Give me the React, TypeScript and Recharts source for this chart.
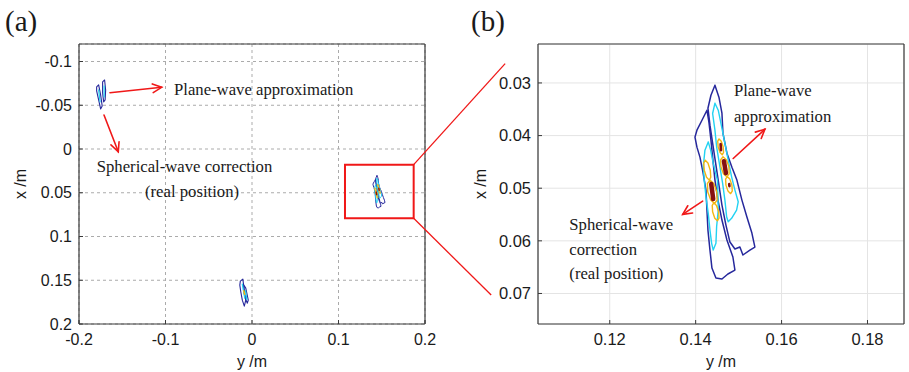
import React from 'react'
import {
  ScatterChart,
  Scatter,
  XAxis,
  YAxis,
  CartesianGrid,
  ReferenceArea,
  ReferenceLine,
  ReferenceDot,
} from 'recharts'

// Every row is [y (m), x (m)]: y runs along the horizontal axis, x down the vertical one.

// Target near y = 0.145 m, plane-wave image (upper, right) and spherical-wave image (lower, left)
const PLANE_OUTER = [
  [0.14449, 0.03044], [0.14542, 0.03271], [0.14612, 0.03575], [0.14635, 0.03954],
  [0.14728, 0.04334], [0.14844, 0.046], [0.1496, 0.04846], [0.15077, 0.05226],
  [0.15193, 0.05548], [0.15309, 0.05852], [0.15379, 0.06118], [0.15263, 0.06175],
  [0.151, 0.06269], [0.1503, 0.06118], [0.14914, 0.06156], [0.14798, 0.06023],
  [0.14705, 0.057], [0.14612, 0.05321], [0.14542, 0.04941], [0.14472, 0.04562],
  [0.14402, 0.04182], [0.14333, 0.03803], [0.14286, 0.0348], [0.14356, 0.03233],
]
const SPHERICAL_OUTER = [
  [0.14263, 0.03518], [0.14147, 0.03708], [0.1403, 0.03898], [0.13984, 0.0403],
  [0.1403, 0.0422], [0.141, 0.0441], [0.1417, 0.04694], [0.1424, 0.05036],
  [0.14263, 0.05416], [0.14286, 0.05795], [0.14333, 0.06175], [0.14379, 0.06517],
  [0.14472, 0.06706], [0.14612, 0.06725], [0.14751, 0.0663], [0.14914, 0.06555],
  [0.14867, 0.06307], [0.14728, 0.05985], [0.14612, 0.05605], [0.14519, 0.05226],
  [0.14449, 0.04846], [0.14402, 0.04467], [0.14356, 0.04087], [0.14309, 0.03746],
]
const PLANE_MID = [
  [0.14449, 0.03385], [0.14526, 0.03518], [0.14605, 0.03835], [0.14681, 0.0415],
  [0.14758, 0.04467], [0.14837, 0.04784], [0.14914, 0.05036], [0.14991, 0.05258],
  [0.14953, 0.05416], [0.14837, 0.05573], [0.14758, 0.05638], [0.14721, 0.05543],
  [0.14681, 0.05226], [0.14628, 0.04909], [0.14565, 0.04594], [0.14488, 0.04214],
  [0.14449, 0.03898], [0.14395, 0.03581],
]
const SPHERICAL_MID = [
  [0.14293, 0.0412], [0.14216, 0.04277], [0.14177, 0.04594], [0.142, 0.04846],
  [0.1424, 0.05163], [0.14293, 0.05478], [0.14333, 0.05795], [0.14372, 0.06047],
  [0.14409, 0.06175], [0.14472, 0.06047], [0.14488, 0.05733], [0.14526, 0.05416],
  [0.14519, 0.05163], [0.14507, 0.04846], [0.14409, 0.04529], [0.14349, 0.04277],
]
const PLANE_INNER = [
  [[0.14544, 0.04063], [0.14596, 0.04107], [0.1464, 0.04214], [0.14649, 0.04322],
   [0.14619, 0.04366], [0.14567, 0.04322], [0.14523, 0.04214], [0.14514, 0.04107]],
  [[0.14635, 0.04404], [0.14714, 0.0446], [0.14774, 0.04594], [0.1478, 0.04728],
   [0.14728, 0.04784], [0.14649, 0.04728], [0.14588, 0.04594], [0.14583, 0.0446]],
  [[0.14735, 0.0478], [0.14796, 0.04827], [0.14844, 0.04941], [0.14852, 0.05055],
   [0.14814, 0.05103], [0.14753, 0.05055], [0.14705, 0.04941], [0.14697, 0.04827]],
]
const SPHERICAL_INNER = [
  [[0.14223, 0.04467], [0.14286, 0.04522], [0.1434, 0.04657], [0.14352, 0.04791],
   [0.14316, 0.04846], [0.14253, 0.04791], [0.142, 0.04657], [0.14188, 0.04522]],
  [[0.14332, 0.04846], [0.14422, 0.04911], [0.14491, 0.05068], [0.14499, 0.05225],
   [0.1444, 0.0529], [0.14351, 0.05225], [0.14281, 0.05068], [0.14274, 0.04911]],
  [[0.14423, 0.05277], [0.14485, 0.05327], [0.14535, 0.05448], [0.14544, 0.05569],
   [0.14507, 0.05619], [0.14445, 0.05569], [0.14395, 0.05448], [0.14386, 0.05327]],
]
// peak cores: strong ones and faint ones
const MAIN_PEAKS = [
  [[0.14658, 0.04486], [0.14705, 0.04713]],
  [[0.14363, 0.04922], [0.14409, 0.05207]],
]
const SIDE_PEAKS = [
  [[0.14581, 0.04163], [0.1459, 0.04277]],
  [[0.14781, 0.04923], [0.14786, 0.04961]],
]

// The other two targets, only in the wide view
const TOP_LEFT_OUTER = [
  [[-0.1796, -0.0709], [-0.1773, -0.0732], [-0.175, -0.0618], [-0.1732, -0.0492],
   [-0.175, -0.0458], [-0.1773, -0.0561], [-0.1796, -0.0664]],
  [[-0.1727, -0.0767], [-0.1704, -0.0789], [-0.1692, -0.0675], [-0.1698, -0.0561],
   [-0.1715, -0.0538], [-0.1727, -0.0641]],
]
const TOP_LEFT_MID = [
  [[-0.1773, -0.0675], [-0.1756, -0.0538]],
  [[-0.1709, -0.0721], [-0.1709, -0.0595]],
]
const BOTTOM_OUTER = [
  [[-0.0135, 0.151], [-0.0106, 0.1487], [-0.0089, 0.1613], [-0.0072, 0.1728],
   [-0.0089, 0.1796], [-0.0112, 0.1728], [-0.0129, 0.1636], [-0.0141, 0.1556]],
  [[-0.0095, 0.1556], [-0.0072, 0.159], [-0.0043, 0.1728], [-0.0054, 0.1762],
   [-0.0077, 0.1705], [-0.0095, 0.1636]],
]
const BOTTOM_MID = [
  [[-0.0112, 0.1545], [-0.0083, 0.1705]],
  [[-0.0075, 0.162], [-0.006, 0.172]],
]
const BOTTOM_INNER = [[-0.0095, 0.162], [-0.0085, 0.166]]

// axes
const WIDE_H_DOMAIN = [-0.2, 0.2]
const WIDE_V_DOMAIN = [-0.12, 0.2]
const WIDE_H_TICKS = [-0.2, -0.1, 0, 0.1, 0.2]
const WIDE_V_TICKS = [-0.1, -0.05, 0, 0.05, 0.1, 0.15, 0.2]
const ZOOM_H_DOMAIN = [0.1033, 0.1885]
const ZOOM_V_DOMAIN = [0.0226, 0.0758]
const ZOOM_H_TICKS = [0.12, 0.14, 0.16, 0.18]
const ZOOM_V_TICKS = [0.03, 0.04, 0.05, 0.06, 0.07]

// zoom window in the wide view and where its leader lines land (zoom-view coordinates)
const ZOOM_BOX_H = [0.1075, 0.1869]
const ZOOM_BOX_V = [0.0179, 0.0792]
const LEADER_ENDS = [[0.09565, 0.02632], [0.0924, 0.0703]]

// annotations
const PLANE_LABEL = 'Plane-wave approximation'
const SPHERICAL_LABEL = ['Spherical-wave correction', '(real position)']
const WIDE_ARROWS = [
  [[-0.1642, -0.0643], [-0.1044, -0.0705]],
  [[-0.1711, -0.0389], [-0.1546, 0.0031]],
]
const WIDE_NOTE_AT = [[-0.0902, -0.0617], [-0.1795, 0.0266], [-0.1237, 0.0552]]
const ZOOM_ARROWS = [
  [[0.14874, 0.04435], [0.15612, 0.03879]],
  [[0.14163, 0.05245], [0.13698, 0.05497]],
]
const ZOOM_PLANE_LINES = ['Plane-wave', 'approximation']
const ZOOM_SPHERICAL_LINES = ['Spherical-wave', 'correction', '(real position)']
const ZOOM_NOTE_AT = [[0.14891, 0.03252], [0.1106, 0.05795]]

const SANS = '"Liberation Sans", Arial, Helvetica, sans-serif'
const SERIF = '"Liberation Serif", "Times New Roman", Times, serif'
const INK = '#1a1a1a'
const FRAME = '#3a3a3a'
const RED = '#f01818'
const BLUE = '#26289c'
const CYAN = '#22d2f2'
const GOLD = '#f2b612'
const CORE = '#861010'

const CHART_H = 372
const X_AXIS_H = 48
const TITLE_BASELINE = 367

const WIDE = { left: 0, width: 460, yAxisW: 79, marginRight: 34, tickFont: 16 }
const ZOOM = { left: 460, width: 449, yAxisW: 78, marginRight: 4, tickFont: 16.5 }
const MARGIN_TOP = 43

const noMarker = () => <g />

const toPoints = (rows: number[][], close: boolean) => {
  const pts = rows.map(([h, v]) => ({ h, v }))
  return close ? [...pts, pts[0]] : pts
}

const trace = (key: string, rows: number[][], stroke: string, width: number, close: boolean) => (
  <Scatter
    key={key}
    data={toPoints(rows, close)}
    shape={noMarker}
    line={{ stroke, strokeWidth: width, strokeLinejoin: 'round', strokeLinecap: 'round' }}
    isAnimationActive={false}
  />
)

type Widths = { outer: number; mid: number; inner: number; main: number; side: number }

function targetContours(tag: string, w: Widths) {
  const out: React.ReactElement[] = [
    trace(tag + 'po', PLANE_OUTER, BLUE, w.outer, true),
    trace(tag + 'so', SPHERICAL_OUTER, BLUE, w.outer, true),
    trace(tag + 'pm', PLANE_MID, CYAN, w.mid, true),
    trace(tag + 'sm', SPHERICAL_MID, CYAN, w.mid, true),
  ]
  PLANE_INNER.forEach((r, i) => out.push(trace(tag + 'pi' + i, r, GOLD, w.inner, true)))
  SPHERICAL_INNER.forEach((r, i) => out.push(trace(tag + 'si' + i, r, GOLD, w.inner, true)))
  MAIN_PEAKS.forEach((r, i) => out.push(trace(tag + 'mp' + i, r, CORE, w.main, false)))
  if (w.side > 0) SIDE_PEAKS.forEach((r, i) => out.push(trace(tag + 'sp' + i, r, CORE, w.side, false)))
  return out
}

const textBlock = (lines: string[], gap: number) => (p: any) => (
  <text x={p.cx} y={p.cy} fontFamily={SERIF} fontSize={16.7} fill={INK}>
    {lines.map((s, i) => (
      <tspan key={i} x={p.cx} dy={i === 0 ? 0 : gap}>
        {s}
      </tspan>
    ))}
  </text>
)

const arrowShape = (p: any) => {
  const { x1, y1, x2, y2 } = p
  const a = Math.atan2(y2 - y1, x2 - x1)
  const len = 10
  const spread = 0.45
  const w1 = [x2 - len * Math.cos(a - spread), y2 - len * Math.sin(a - spread)]
  const w2 = [x2 - len * Math.cos(a + spread), y2 - len * Math.sin(a + spread)]
  return (
    <g stroke={RED} strokeWidth={1.6} fill="none" strokeLinecap="round">
      <line x1={x1} y1={y1} x2={x2} y2={y2} />
      <polyline points={`${w1} ${x2},${y2} ${w2}`} />
    </g>
  )
}

const vTitle = (props: any) => {
  const vb = props.viewBox || {}
  const cx = (vb.x ?? 0) + 20.5
  const cy = (vb.y ?? MARGIN_TOP) + (vb.height ?? 280) / 2
  return (
    <text x={cx} y={cy} transform={`rotate(-90 ${cx} ${cy})`} textAnchor="middle" dy="0.35em" fontFamily={SANS} fontSize={16} fill={INK}>
      x /m
    </text>
  )
}

const hTitle = (props: any) => {
  const vb = props.viewBox || {}
  return (
    <text x={(vb.x ?? 0) + (vb.width ?? 0) / 2} y={TITLE_BASELINE} textAnchor="middle" fontFamily={SANS} fontSize={16} fill={INK}>
      y /m
    </text>
  )
}

type PanelProps = {
  layout: typeof WIDE
  hDomain: number[]
  vDomain: number[]
  hTicks: number[]
  vTicks: number[]
  grid: React.ReactElement
  children: React.ReactNode
}

function Panel({ layout, hDomain, vDomain, hTicks, vTicks, grid, children }: PanelProps) {
  const tick = { fontSize: layout.tickFont, fill: INK, fontFamily: SANS }
  const frame = { stroke: FRAME, strokeWidth: 1.2 }
  return (
    <div style={{ position: 'absolute', left: layout.left, top: 0 }}>
      <ScatterChart
        width={layout.width}
        height={CHART_H}
        margin={{ top: MARGIN_TOP, right: layout.marginRight, bottom: 0, left: 0 }}
        style={{ fontFamily: SANS }}
      >
        {grid}
        <XAxis
          dataKey="h"
          type="number"
          domain={hDomain}
          ticks={hTicks}
          interval={0}
          allowDataOverflow
          height={X_AXIS_H}
          tickSize={-4}
          tickMargin={13.5}
          tick={tick}
          axisLine={frame}
          tickLine={{ stroke: FRAME }}
          label={hTitle}
        />
        <XAxis
          xAxisId="top"
          orientation="top"
          type="number"
          domain={hDomain}
          ticks={hTicks}
          interval={0}
          allowDataOverflow
          height={1}
          tickSize={-4}
          tick={false}
          axisLine={frame}
          tickLine={{ stroke: FRAME }}
        />
        <YAxis
          dataKey="v"
          type="number"
          domain={vDomain}
          ticks={vTicks}
          interval={0}
          reversed
          allowDataOverflow
          width={layout.yAxisW}
          tickSize={-4}
          tickMargin={11}
          tick={tick}
          axisLine={frame}
          tickLine={{ stroke: FRAME }}
          label={vTitle}
        />
        <YAxis
          yAxisId="right"
          orientation="right"
          type="number"
          domain={vDomain}
          ticks={vTicks}
          interval={0}
          reversed
          allowDataOverflow
          width={1}
          tickSize={-4}
          tick={false}
          axisLine={frame}
          tickLine={{ stroke: FRAME }}
        />
        {children}
      </ScatterChart>
    </div>
  )
}

// pixel mapping of both plot areas, used for the leader lines that cross between panels
const wideH = (v: number) => WIDE.left + WIDE.yAxisW + ((v - WIDE_H_DOMAIN[0]) / (WIDE_H_DOMAIN[1] - WIDE_H_DOMAIN[0])) * (WIDE.width - WIDE.yAxisW - WIDE.marginRight - 1)
const zoomH = (v: number) => ZOOM.left + ZOOM.yAxisW + ((v - ZOOM_H_DOMAIN[0]) / (ZOOM_H_DOMAIN[1] - ZOOM_H_DOMAIN[0])) * (ZOOM.width - ZOOM.yAxisW - ZOOM.marginRight - 1)
const plotTop = MARGIN_TOP + 1
const plotH = CHART_H - X_AXIS_H - plotTop
const wideV = (v: number) => plotTop + ((v - WIDE_V_DOMAIN[0]) / (WIDE_V_DOMAIN[1] - WIDE_V_DOMAIN[0])) * plotH
const zoomV = (v: number) => plotTop + ((v - ZOOM_V_DOMAIN[0]) / (ZOOM_V_DOMAIN[1] - ZOOM_V_DOMAIN[0])) * plotH

export default function App() {
  const wideThin: Widths = { outer: 1, mid: 1, inner: 1, main: 1.4, side: 0 }
  const zoomFull: Widths = { outer: 1.5, mid: 1.4, inner: 1.4, main: 4.5, side: 2.6 }

  return (
    <div style={{ position: 'absolute', left: 0, top: 0, width: 909, height: CHART_H, background: '#fff', overflow: 'hidden' }}>
      <Panel
        layout={WIDE}
        hDomain={WIDE_H_DOMAIN}
        vDomain={WIDE_V_DOMAIN}
        hTicks={WIDE_H_TICKS}
        vTicks={WIDE_V_TICKS}
        grid={<CartesianGrid stroke="#ababab" strokeDasharray="3 3" />}
      >
        {TOP_LEFT_OUTER.map((r, i) => trace('tlo' + i, r, BLUE, 1.1, true))}
        {TOP_LEFT_MID.map((r, i) => trace('tlm' + i, r, CYAN, 1.2, false))}
        {BOTTOM_OUTER.map((r, i) => trace('bo' + i, r, BLUE, 1.1, true))}
        {BOTTOM_MID.map((r, i) => trace('bm' + i, r, CYAN, 1.3, false))}
        {trace('bi', BOTTOM_INNER, GOLD, 1.5, false)}
        {targetContours('w', wideThin)}
        <ReferenceArea
          x1={ZOOM_BOX_H[0]}
          x2={ZOOM_BOX_H[1]}
          y1={ZOOM_BOX_V[0]}
          y2={ZOOM_BOX_V[1]}
          fill="none"
          stroke={RED}
          strokeWidth={2}
          ifOverflow="visible"
        />
        {WIDE_ARROWS.map(([s, e], i) => (
          <ReferenceLine key={'wa' + i} segment={[{ x: s[0], y: s[1] }, { x: e[0], y: e[1] }]} shape={arrowShape} ifOverflow="visible" />
        ))}
        <ReferenceDot x={WIDE_NOTE_AT[0][0]} y={WIDE_NOTE_AT[0][1]} r={0} shape={textBlock([PLANE_LABEL], 0)} />
        <ReferenceDot x={WIDE_NOTE_AT[1][0]} y={WIDE_NOTE_AT[1][1]} r={0} shape={textBlock([SPHERICAL_LABEL[0]], 0)} />
        <ReferenceDot x={WIDE_NOTE_AT[2][0]} y={WIDE_NOTE_AT[2][1]} r={0} shape={textBlock([SPHERICAL_LABEL[1]], 0)} />
      </Panel>

      <Panel
        layout={ZOOM}
        hDomain={ZOOM_H_DOMAIN}
        vDomain={ZOOM_V_DOMAIN}
        hTicks={ZOOM_H_TICKS}
        vTicks={ZOOM_V_TICKS}
        grid={<CartesianGrid stroke="#e4e4e4" />}
      >
        {targetContours('z', zoomFull)}
        {ZOOM_ARROWS.map(([s, e], i) => (
          <ReferenceLine key={'za' + i} segment={[{ x: s[0], y: s[1] }, { x: e[0], y: e[1] }]} shape={arrowShape} ifOverflow="visible" />
        ))}
        <ReferenceDot x={ZOOM_NOTE_AT[0][0]} y={ZOOM_NOTE_AT[0][1]} r={0} shape={textBlock(ZOOM_PLANE_LINES, 26)} />
        <ReferenceDot x={ZOOM_NOTE_AT[1][0]} y={ZOOM_NOTE_AT[1][1]} r={0} shape={textBlock(ZOOM_SPHERICAL_LINES, 24.5)} />
      </Panel>

      <svg width={909} height={CHART_H} style={{ position: 'absolute', left: 0, top: 0, pointerEvents: 'none' }}>
        <text x={5} y={31} fontFamily={SERIF} fontSize={29} fill={INK}>(a)</text>
        <text x={471} y={31} fontFamily={SERIF} fontSize={29} fill={INK}>(b)</text>
        <line
          x1={wideH(ZOOM_BOX_H[1])}
          y1={wideV(ZOOM_BOX_V[0])}
          x2={zoomH(LEADER_ENDS[0][0])}
          y2={zoomV(LEADER_ENDS[0][1])}
          stroke={RED}
          strokeWidth={1.3}
        />
        <line
          x1={wideH(ZOOM_BOX_H[1])}
          y1={wideV(ZOOM_BOX_V[1])}
          x2={zoomH(LEADER_ENDS[1][0])}
          y2={zoomV(LEADER_ENDS[1][1])}
          stroke={RED}
          strokeWidth={1.3}
        />
      </svg>
    </div>
  )
}
